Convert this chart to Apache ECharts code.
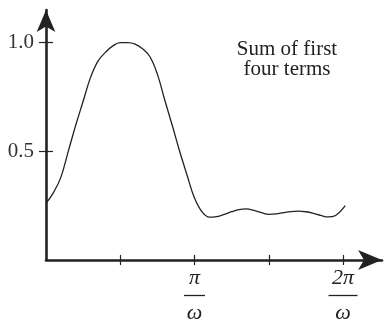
<!DOCTYPE html>
<html>
<head>
<meta charset="utf-8">
<script src="https://cdn.jsdelivr.net/npm/echarts@6/dist/echarts.min.js"></script>
<style>html,body{margin:0;padding:0;background:#fff}#c{width:390px;height:324px}</style>
</head>
<body>
<div id="c"></div>
<script>
// x in quarter-periods (1 = pi/(2 omega)), y = signal value
const xValues = [0, 0.1, 0.2, 0.3, 0.4, 0.5, 0.6, 0.7, 0.8, 0.9, 1.0, 1.1, 1.2, 1.3, 1.4, 1.5, 1.6, 1.7, 1.8, 1.9, 2.0, 2.1, 2.2, 2.3, 2.4, 2.5, 2.6, 2.7, 2.8, 2.9, 3.0, 3.1, 3.2, 3.3, 3.4, 3.5, 3.6, 3.7, 3.8, 3.9, 4.03];
const yValues = [0.26, 0.31, 0.38, 0.50, 0.62, 0.73, 0.84, 0.915, 0.955, 0.985, 1.0, 1.0, 0.993, 0.972, 0.935, 0.855, 0.735, 0.62, 0.50, 0.39, 0.285, 0.222, 0.197, 0.20, 0.21, 0.222, 0.232, 0.235, 0.228, 0.218, 0.21, 0.212, 0.218, 0.223, 0.225, 0.222, 0.215, 0.205, 0.198, 0.205, 0.25];
const xTickValues = [1, 2, 3, 4];
const xLabelValues = [2, 4];
const xLabelNumerators = ['π', '2π'];
const xLabelDenominators = ['ω', 'ω'];
const yTickValues = [0.5, 1.0];
const yTickLabels = ['0.5', '1.0'];
const annotation = ['Sum of first', 'four terms'];

const ink = '#222';
const serif = '"Liberation Serif", "DejaVu Serif", serif';
const chart = echarts.init(document.getElementById('c'), null, {renderer: 'canvas'});
const data = xValues.map((x, i) => [x, yValues[i]]);

chart.setOption({
  animation: false,
  title: {
    text: annotation.join('\n'),
    left: 287, top: 39, textAlign: 'center', padding: 0,
    textStyle: {fontFamily: serif, fontSize: 21, fontWeight: 'normal', color: ink, lineHeight: 20, align: 'center'}
  },
  grid: {left: 46, right: 8, top: 10, bottom: 59, containLabel: false},
  xAxis: [{
    type: 'value', min: 0, max: 4.525, position: 'bottom',
    axisLine: {show: true, onZero: false, lineStyle: {color: ink, width: 2.6}, symbol: ['none', 'arrow'], symbolSize: [15, 24]},
    axisTick: {show: true, length: 5, customValues: xTickValues, lineStyle: {color: ink, width: 1.2}},
    axisLabel: {
      show: true, margin: 7, customValues: xLabelValues,
      formatter: v => {
        const i = xLabelValues.indexOf(v);
        return '{n|' + xLabelNumerators[i] + '}\n{' + (xLabelNumerators[i].length > 1 ? 'bar2' : 'bar1') + '|}\n{d|' + xLabelDenominators[i] + '}';
      },
      rich: {
        n: {fontFamily: serif, fontStyle: 'italic', fontSize: 22, color: ink, lineHeight: 22, align: 'center'},
        d: {fontFamily: serif, fontStyle: 'italic', fontSize: 22, color: ink, lineHeight: 22, align: 'center'},
        bar1: {width: 21, height: 1.3, backgroundColor: ink, lineHeight: 13, align: 'center'},
        bar2: {width: 29, height: 1.3, backgroundColor: ink, lineHeight: 13, align: 'center'}
      }
    },
    splitLine: {show: false}
  }, {
    type: 'value', min: 0, max: 4.525, position: 'bottom', offset: 0,
    axisLine: {show: false},
    axisTick: {show: true, inside: true, length: 5, customValues: xTickValues, lineStyle: {color: ink, width: 1.2}},
    axisLabel: {show: false},
    splitLine: {show: false}
  }],
  yAxis: [{
    type: 'value', min: 0, max: 1.15, position: 'left',
    axisLine: {show: true, onZero: false, lineStyle: {color: ink, width: 2.6}, symbol: ['none', 'arrow'], symbolSize: [14, 22]},
    axisTick: {show: true, length: 7, customValues: yTickValues, lineStyle: {color: ink, width: 1.2}},
    axisLabel: {
      show: true, margin: 12, customValues: yTickValues,
      formatter: v => yTickLabels[yTickValues.indexOf(v)],
      fontFamily: serif, fontSize: 21, color: '#333'
    },
    splitLine: {show: false}
  }, {
    type: 'value', min: 0, max: 1.15, position: 'left', offset: 0,
    axisLine: {show: false},
    axisTick: {show: true, inside: true, length: 7, customValues: yTickValues, lineStyle: {color: ink, width: 1.2}},
    axisLabel: {show: false},
    splitLine: {show: false}
  }],
  series: [{
    type: 'line', data: data, xAxisIndex: 0, yAxisIndex: 0,
    smooth: 0.4, showSymbol: false,
    lineStyle: {color: ink, width: 1.3}
  }]
});
</script>
</body>
</html>
